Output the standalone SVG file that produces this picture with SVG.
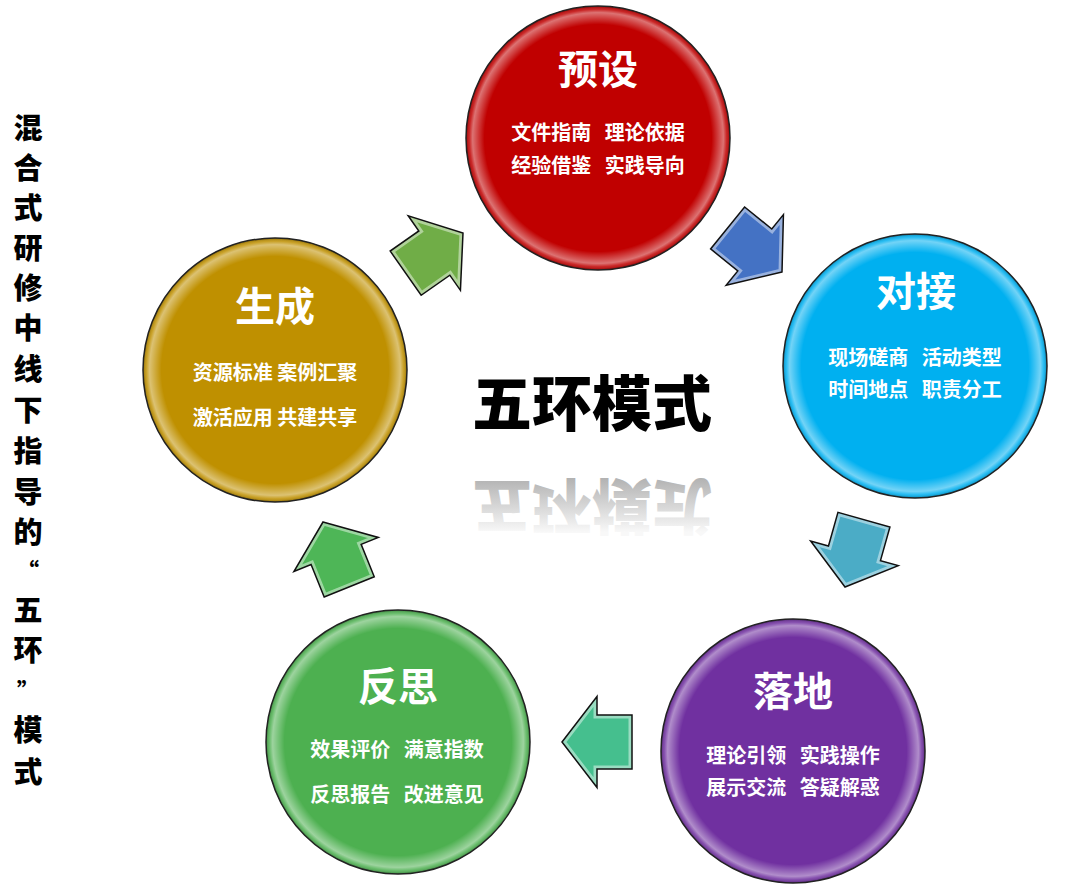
<svg xmlns="http://www.w3.org/2000/svg" width="1081" height="886" viewBox="0 0 1081 886">
<style>
.t{font-family:"Noto Sans CJK SC","Liberation Sans",sans-serif;font-weight:700;fill:#fff;text-anchor:middle}
.h{font-size:40px}
.b{font-size:20px}
.rim{fill:url(#rim)}
.ring{fill:none;stroke:#222;stroke-width:1.5}
.ao{fill:none;stroke:#111;stroke-width:1.5;stroke-linejoin:miter}
.ab{fill:none;stroke:#fff;stroke-opacity:0.45;stroke-width:7}
.side{font-family:"Noto Sans CJK SC","Liberation Sans",sans-serif;font-weight:900;font-size:29px;fill:#000;text-anchor:middle}
.q{font-size:22px}
</style>
<defs>
<radialGradient id="rim" cx="0.5" cy="0.5" r="0.5">
<stop offset="0.86" stop-color="#fff" stop-opacity="0"/>
<stop offset="0.95" stop-color="#fff" stop-opacity="0.45"/>
<stop offset="0.975" stop-color="#fff" stop-opacity="0.15"/>
<stop offset="1" stop-color="#000" stop-opacity="0.25"/>
</radialGradient>
<path id="arr" d="M0,0 L-35,45.5 L-35,27 L-70,27 L-70,-27 L-35,-27 L-35,-45.5 Z"/>
<clipPath id="ac"><use href="#arr"/></clipPath>
<linearGradient id="refl" gradientUnits="userSpaceOnUse" x1="0" y1="432" x2="0" y2="378">
<stop offset="0" stop-color="#b2b2b2"/>
<stop offset="1" stop-color="#f8f8f8"/>
</linearGradient>
</defs>

<g id="side-title">
<text class="side"><tspan x="28" y="139">混</tspan><tspan x="28" y="179">合</tspan><tspan x="28" y="219">式</tspan><tspan x="28" y="259">研</tspan><tspan x="28" y="299">修</tspan><tspan x="28" y="339">中</tspan><tspan x="28" y="380">线</tspan><tspan x="28" y="421">下</tspan><tspan x="28" y="462">指</tspan><tspan x="28" y="503">导</tspan><tspan x="28" y="543">的</tspan><tspan class="q" x="28" y="579">“</tspan><tspan x="28" y="621">五</tspan><tspan x="28" y="661">环</tspan><tspan class="q" x="28" y="699">”</tspan><tspan x="28" y="741">模</tspan><tspan x="28" y="783">式</tspan></text>
</g>

<g id="node-yushe">
<circle cx="598" cy="138" r="132" fill="#C00000"/>
<circle cx="598" cy="138" r="132" class="rim"/>
<circle cx="598" cy="138" r="132" class="ring"/>
<text class="t h" x="598" y="84">预设</text>
<text class="t b" x="598" y="140" word-spacing="9">文件指南 理论依据</text>
<text class="t b" x="598" y="173" word-spacing="9">经验借鉴 实践导向</text>
</g>

<g id="node-duijie">
<circle cx="915" cy="366" r="132" fill="#00B0F0"/>
<circle cx="915" cy="366" r="132" class="rim"/>
<circle cx="915" cy="366" r="132" class="ring"/>
<text class="t h" x="916" y="306">对接</text>
<text class="t b" x="915" y="365" word-spacing="9">现场磋商 活动类型</text>
<text class="t b" x="915" y="397" word-spacing="9">时间地点 职责分工</text>
</g>

<g id="node-luodi">
<circle cx="793" cy="751" r="132" fill="#7030A0"/>
<circle cx="793" cy="751" r="132" class="rim"/>
<circle cx="793" cy="751" r="132" class="ring"/>
<text class="t h" x="793" y="706">落地</text>
<text class="t b" x="793" y="763" word-spacing="9">理论引领 实践操作</text>
<text class="t b" x="793" y="795" word-spacing="9">展示交流 答疑解惑</text>
</g>

<g id="node-fansi">
<circle cx="398" cy="742" r="132" fill="#4DB050"/>
<circle cx="398" cy="742" r="132" class="rim"/>
<circle cx="398" cy="742" r="132" class="ring"/>
<text class="t h" x="398" y="701">反思</text>
<text class="t b" x="397" y="757" word-spacing="9">效果评价 满意指数</text>
<text class="t b" x="397" y="802" word-spacing="9">反思报告 改进意见</text>
</g>

<g id="node-shengcheng">
<circle cx="275" cy="370" r="132" fill="#BF9000"/>
<circle cx="275" cy="370" r="132" class="rim"/>
<circle cx="275" cy="370" r="132" class="ring"/>
<text class="t h" x="275" y="321">生成</text>
<text class="t b" x="275" y="380">资源标准 案例汇聚</text>
<text class="t b" x="275" y="425">激活应用 共建共享</text>
</g>

<g id="center-title">
<text x="592" y="426" style="font-family:'Noto Sans CJK SC','Liberation Sans',sans-serif;font-weight:900;font-size:60px;fill:#000;text-anchor:middle">五环模式</text>
<text x="592" y="426" transform="translate(0,910) scale(1,-1)" style="font-family:'Noto Sans CJK SC','Liberation Sans',sans-serif;font-weight:900;font-size:60px;fill:url(#refl);text-anchor:middle">五环模式</text>
</g>

<g id="connectors">
<g transform="translate(463,233) rotate(-35)">
<use href="#arr" fill="#70AD47"/>
<use href="#arr" class="ab" clip-path="url(#ac)"/>
<use href="#arr" class="ao"/>
</g>
<g transform="translate(782,272) rotate(39)">
<use href="#arr" fill="#4472C4"/>
<use href="#arr" class="ab" clip-path="url(#ac)"/>
<use href="#arr" class="ao"/>
</g>
<g transform="translate(845,587) rotate(105.7)">
<use href="#arr" fill="#4BACC6"/>
<use href="#arr" class="ab" clip-path="url(#ac)"/>
<use href="#arr" class="ao"/>
</g>
<g transform="translate(562,742) rotate(180)">
<use href="#arr" fill="#45BF8E"/>
<use href="#arr" class="ab" clip-path="url(#ac)"/>
<use href="#arr" class="ao"/>
</g>
<g transform="translate(323,522) rotate(-112)">
<use href="#arr" fill="#4EB657"/>
<use href="#arr" class="ab" clip-path="url(#ac)"/>
<use href="#arr" class="ao"/>
</g>
</g>
</svg>
